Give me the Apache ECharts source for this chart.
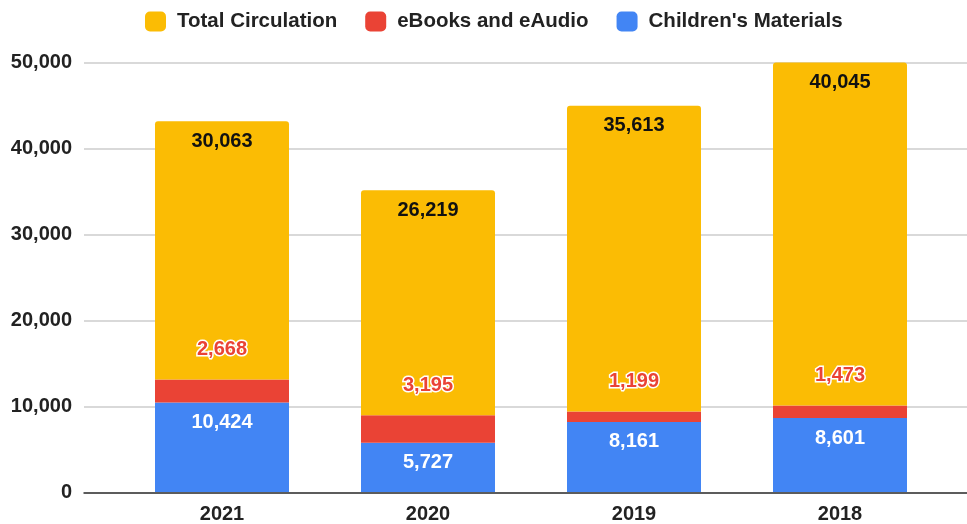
<!DOCTYPE html>
<html>
<head>
<meta charset="utf-8">
<script src="https://cdn.jsdelivr.net/npm/echarts@6/dist/echarts.min.js"></script>
<style>
  html, body { margin: 0; padding: 0; background: #fff; }
  #chart { width: 967px; height: 524px; }
</style>
</head>
<body>
<div id="chart"></div>
<script>
const years = ['2021', '2020', '2019', '2018']
const childrens = [10424, 5727, 8161, 8601]
const ebooks = [2668, 3195, 1199, 1473]
const totalCirc = [30063, 26219, 35613, 40045]
const yTicks = [0, 10000, 20000, 30000, 40000, 50000]

const font = '"Liberation Sans", Arial, sans-serif'
const fmt = v => v.toLocaleString('en-US')

const chart = echarts.init(document.getElementById('chart'))

chart.setOption({
  animation: false,
  textStyle: { fontFamily: font },
  legend: {
    left: 140,
    top: 6,
    itemWidth: 21,
    itemHeight: 20,
    itemGap: 28,
    icon: 'roundRect',
    data: ['Total Circulation', 'eBooks and eAudio', "Children's Materials"],
    textStyle: { fontSize: 20.5, fontWeight: 'bold', color: '#222', padding: [0, 0, 0, 6] }
  },
  grid: [
    // bars
    { left: 119, right: 24, top: 62.5, bottom: 31.5 },
    // gridlines + y labels, wider than the bars
    { left: 84, right: 0, top: 62.5, bottom: 31.5 }
  ],
  xAxis: [
    {
      type: 'category',
      gridIndex: 0,
      data: years,
      axisLine: { show: false },
      axisTick: { show: false },
      axisLabel: { fontSize: 20, fontWeight: 'bold', color: '#222', margin: 12 }
    },
    {
      type: 'value',
      gridIndex: 1,
      min: 0,
      max: 1,
      axisLine: { show: true, lineStyle: { color: '#333', width: 1.5 } },
      axisTick: { show: false },
      axisLabel: { show: false },
      splitLine: { show: false }
    }
  ],
  yAxis: [
    { type: 'value', gridIndex: 0, min: 0, max: 50000, show: false },
    {
      type: 'value',
      gridIndex: 1,
      min: yTicks[0],
      max: yTicks[yTicks.length - 1],
      interval: 10000,
      axisLine: { show: false },
      axisTick: { show: false },
      axisLabel: { fontSize: 20, fontWeight: 'bold', color: '#222', margin: 12, formatter: fmt },
      splitLine: { lineStyle: { color: '#cccccc', width: 1.5 } }
    }
  ],
  series: [
    {
      name: "Children's Materials",
      type: 'bar',
      stack: 'all',
      barWidth: 134,
      data: childrens,
      itemStyle: { color: '#4285f4' },
      label: {
        show: true,
        position: 'insideTop',
        distance: 10,
        color: '#fff',
        fontSize: 20,
        fontWeight: 'bold',
        formatter: p => fmt(p.value)
      }
    },
    {
      name: 'eBooks and eAudio',
      type: 'bar',
      stack: 'all',
      data: ebooks,
      itemStyle: { color: '#ea4335' },
      label: {
        show: true,
        position: 'top',
        distance: 20,
        color: '#ea4335',
        fontSize: 20,
        fontWeight: 'bold',
        textBorderColor: '#fff',
        textBorderWidth: 3,
        formatter: p => fmt(p.value)
      }
    },
    {
      name: 'Total Circulation',
      type: 'bar',
      stack: 'all',
      data: totalCirc,
      itemStyle: { color: '#fbbc04', borderRadius: [3, 3, 0, 0] },
      label: {
        show: true,
        position: 'insideTop',
        distance: 10,
        color: '#111',
        fontSize: 20,
        fontWeight: 'bold',
        formatter: p => fmt(p.value)
      }
    }
  ]
})
</script>
</body>
</html>
